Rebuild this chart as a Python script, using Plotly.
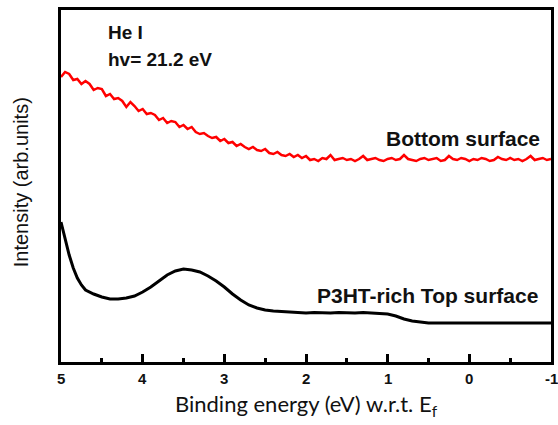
import plotly.graph_objects as go

# Bottom surface (red) spectrum
RED_E = [5.00, 4.95, 4.90, 4.85, 4.80, 4.75, 4.70, 4.65, 4.60, 4.55,
         4.50, 4.45, 4.40, 4.35, 4.30, 4.25, 4.20, 4.15, 4.10, 4.05,
         4.00, 3.95, 3.90, 3.85, 3.80, 3.75, 3.70, 3.65, 3.60, 3.55,
         3.50, 3.45, 3.40, 3.35, 3.30, 3.25, 3.20, 3.15, 3.10, 3.05,
         3.00, 2.95, 2.90, 2.85, 2.80, 2.75, 2.70, 2.65, 2.60, 2.55,
         2.50, 2.45, 2.40, 2.35, 2.30, 2.25, 2.20, 2.15, 2.10, 2.05,
         2.00, 1.95, 1.90, 1.85, 1.80, 1.75, 1.70, 1.65, 1.60, 1.55,
         1.50, 1.45, 1.40, 1.35, 1.30, 1.25, 1.20, 1.15, 1.10, 1.05,
         1.00, 0.95, 0.90, 0.85, 0.80, 0.75, 0.70, 0.65, 0.60, 0.55,
         0.50, 0.45, 0.40, 0.35, 0.30, 0.25, 0.20, 0.15, 0.10, 0.05,
         0.00, -0.05, -0.10, -0.15, -0.20, -0.25, -0.30, -0.35, -0.40, -0.45,
         -0.50, -0.55, -0.60, -0.65, -0.70, -0.75, -0.80, -0.85, -0.90, -0.95,
         -1.00]
RED_I = [265, 270, 268, 262, 263, 258, 261, 258, 252, 254,
         253, 246, 248, 243, 244, 241, 235, 240, 236, 231,
         233, 228, 229, 227, 222, 224, 219, 221, 220, 215,
         217, 213, 215, 210, 208, 209, 206, 204, 205, 201,
         203, 199, 200, 196, 198, 195, 193, 195, 192, 191,
         193, 189, 188, 190, 187, 186, 188, 185, 187, 184,
         186, 182, 183, 181, 184, 183, 187, 182, 183, 184,
         182, 183, 181, 183, 186, 182, 183, 184, 182, 181,
         183, 184, 182, 183, 187, 183, 182, 181, 183, 184,
         182, 183, 184, 181, 182, 186, 183, 182, 184, 183,
         181, 183, 182, 184, 183, 181, 182, 185, 183, 182,
         184, 182, 183, 181, 183, 186, 182, 183, 184, 182,
         183]

# P3HT-rich top surface (black) spectrum
BLK_E = [5.00, 4.95, 4.90, 4.85, 4.80, 4.75, 4.70, 4.60, 4.50, 4.40,
         4.30, 4.20, 4.10, 4.00, 3.90, 3.80, 3.70, 3.60, 3.50, 3.40,
         3.30, 3.20, 3.10, 3.00, 2.90, 2.80, 2.70, 2.60, 2.50, 2.40,
         2.30, 2.20, 2.10, 2.00, 1.90, 1.80, 1.70, 1.60, 1.50, 1.40,
         1.30, 1.20, 1.10, 1.00, 0.90, 0.80, 0.70, 0.60, 0.50, -1.00]
BLK_I = [120, 102, 87, 74, 64, 57, 52, 48, 45, 43,
         43, 44, 46, 50, 55, 61, 67, 71, 73, 72,
         70, 66, 61, 55, 48, 42, 37, 34, 32, 31,
         30.5, 30, 30, 29, 29.5, 29, 29, 29.5, 29, 29,
         29.5, 29, 28.5, 28, 26, 23, 21, 20, 19, 19]

X_TICKS = [5, 4, 3, 2, 1, 0, -1]
X_TICK_LABELS = ["5", "4", "3", "2", "1", "0", "-1"]

fig = go.Figure()
fig.add_trace(go.Scatter(x=RED_E, y=RED_I, mode="lines",
                         line=dict(color="#ff0000", width=2.5), showlegend=False))
fig.add_trace(go.Scatter(x=BLK_E, y=BLK_I, mode="lines",
                         line=dict(color="#000000", width=3), showlegend=False))

arial = "Liberation Sans, Arial"
bold = dict(family=arial, size=21, color="#111")
fig.add_annotation(x=0.092, y=0.935, xref="paper", yref="paper", text="<b>He I</b>",
                   showarrow=False, xanchor="left", yanchor="middle", font=dict(bold, size=19))
fig.add_annotation(x=0.092, y=0.858, xref="paper", yref="paper", text="<b>hv= 21.2 eV</b>",
                   showarrow=False, xanchor="left", yanchor="middle", font=dict(bold, size=19))
fig.add_annotation(x=0.982, y=0.636, xref="paper", yref="paper", text="<b>Bottom surface</b>",
                   showarrow=False, xanchor="right", yanchor="middle", font=bold)
fig.add_annotation(x=0.978, y=0.190, xref="paper", yref="paper", text="<b>P3HT-rich Top surface</b>",
                   showarrow=False, xanchor="right", yanchor="middle", font=bold)

# x tick labels (as annotations so the edge label "-1" is not hidden)
for v, lab in zip(X_TICKS, X_TICK_LABELS):
    fig.add_annotation(x=v, y=-0.047, xref="x", yref="paper", text=lab,
                       showarrow=False, xanchor="center", yanchor="middle",
                       font=dict(family=arial, size=15, color="#111", weight="bold"))

# axis titles
fig.add_annotation(x=0.5, y=-0.122, xref="paper", yref="paper",
                   text="Binding energy (eV) w.r.t. E<sub>f</sub>",
                   showarrow=False, xanchor="center", yanchor="middle",
                   font=dict(family="Lato", size=22, color="#111"))
fig.add_annotation(x=-0.08, y=0.51, xref="paper", yref="paper",
                   text="Intensity (arb.units)", textangle=-90,
                   showarrow=False, xanchor="center", yanchor="middle",
                   font=dict(family=arial, size=20, color="#111"))

fig.update_layout(
    width=558, height=425,
    margin=dict(l=61, r=7, t=10, b=63, autoexpand=False),
    paper_bgcolor="white", plot_bgcolor="white",
    xaxis=dict(range=[5, -1], tickvals=X_TICKS, showticklabels=False,
               ticks="inside", ticklen=8, tickwidth=2.5, tickcolor="black",
               minor=dict(dtick=0.5, ticks="inside", ticklen=4, tickwidth=2.5, tickcolor="black"),
               showline=True, linecolor="black", linewidth=3, mirror=True,
               showgrid=False, zeroline=False, automargin=False),
    yaxis=dict(range=[-20, 332], showticklabels=False, ticks="",
               showline=True, linecolor="black", linewidth=3, mirror=True,
               showgrid=False, zeroline=False, automargin=False),
)

# remove the default 8px page margin so the 558x425 figure fills the window
fig.write_html("out.html", config={"displayModeBar": False},
               post_script="document.body.style.margin='0';document.body.style.overflow='hidden';")
